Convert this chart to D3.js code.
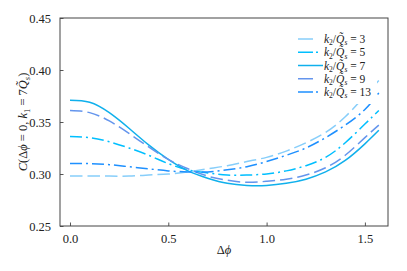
<!DOCTYPE html>
<html>
<head>
<meta charset="utf-8">
<script src="https://cdn.jsdelivr.net/npm/d3@7"></script>
<style>
  body { margin: 0; background: #fff; }
  text { font-family: "Liberation Serif", "DejaVu Serif", serif; }
</style>
</head>
<body>
<div id="chart"></div>
<script>
// values
const dphi = [0, 0.1, 0.2, 0.3, 0.4, 0.5, 0.6, 0.7, 0.8, 0.9, 1.0, 1.1, 1.2, 1.3, 1.4, 1.5, Math.PI / 2];
const k3 = [0.298, 0.298, 0.298, 0.298, 0.299, 0.300, 0.302, 0.305, 0.308, 0.312, 0.316, 0.322, 0.330, 0.340, 0.355, 0.375, 0.390];
const k5 = [0.336, 0.335, 0.331, 0.325, 0.318, 0.310, 0.304, 0.301, 0.299, 0.299, 0.300, 0.303, 0.308, 0.316, 0.330, 0.348, 0.361];
const k7 = [0.371, 0.369, 0.359, 0.344, 0.328, 0.314, 0.303, 0.296, 0.291, 0.289, 0.289, 0.291, 0.295, 0.302, 0.313, 0.329, 0.342];
const k9 = [0.361, 0.359, 0.351, 0.339, 0.326, 0.314, 0.305, 0.298, 0.294, 0.292, 0.293, 0.295, 0.299, 0.306, 0.318, 0.335, 0.347];
const k13 = [0.310, 0.310, 0.309, 0.307, 0.305, 0.303, 0.302, 0.302, 0.304, 0.307, 0.312, 0.318, 0.325, 0.335, 0.347, 0.362, 0.378];
const labels = ['3', '5', '7', '9', '13'];
const xTicks = [0, 0.5, 1.0, 1.5];
const yTicks = [0.25, 0.30, 0.35, 0.40, 0.45];

const series = [
  { k: labels[0], v: k3, color: '#87cefa', dash: '12.5,5', legDash: '15,10' },
  { k: labels[1], v: k5, color: '#00bfff', dash: '12,4,2,4', legDash: '15,3,2,10' },
  { k: labels[2], v: k7, color: '#10b0ec', dash: null, legDash: null },
  { k: labels[3], v: k9, color: '#6495ed', dash: '12.5,5', legDash: '15,10' },
  { k: labels[4], v: k13, color: '#1e90ff', dash: '12,4,2,4', legDash: '15,3,2,10' }
];

const width = 407, height = 271;
const margin = { top: 18, right: 19, bottom: 45, left: 60 };

const svg = d3.select('#chart').append('svg')
  .attr('width', width)
  .attr('height', height);

const x = d3.scaleLinear()
  .domain([-0.0508, 1.6175])
  .range([margin.left, width - margin.right]);
const y = d3.scaleLinear()
  .domain([0.25, 0.45])
  .range([height - margin.bottom, margin.top]);

// curves
const line = d3.line()
  .x(d => x(d[0]))
  .y(d => y(d[1]))
  .curve(d3.curveNatural);

svg.append('g')
  .selectAll('path')
  .data(series)
  .join('path')
  .attr('d', s => line(dphi.map((p, i) => [p, s.v[i]])))
  .attr('fill', 'none')
  .attr('stroke', s => s.color)
  .attr('stroke-width', 1.5)
  .attr('stroke-dasharray', s => s.dash);

// axes (ticks inward)
const xAxis = g => g.attr('transform', `translate(0,${height - margin.bottom})`)
  .call(d3.axisBottom(x).tickValues(xTicks).tickFormat(d3.format('.1f')).tickSizeInner(-3.5).tickSizeOuter(0).tickPadding(8))
  .call(g => g.select('.domain').remove())
  .call(g => g.selectAll('.tick line').attr('stroke', '#555'))
  .call(g => g.selectAll('text').attr('font-size', 12.5).attr('fill', '#222'));

const yAxis = g => g.attr('transform', `translate(${margin.left},0)`)
  .call(d3.axisLeft(y).tickValues(yTicks).tickFormat(d3.format('.2f')).tickSizeInner(-3.5).tickSizeOuter(0).tickPadding(9))
  .call(g => g.select('.domain').remove())
  .call(g => g.selectAll('.tick line').attr('stroke', '#555'))
  .call(g => g.selectAll('text').attr('font-size', 12.5).attr('fill', '#222'));

svg.append('g').call(xAxis);
svg.append('g').call(yAxis);

// frame
svg.append('rect')
  .attr('x', margin.left)
  .attr('y', margin.top)
  .attr('width', width - margin.left - margin.right)
  .attr('height', height - margin.top - margin.bottom)
  .attr('fill', 'none')
  .attr('stroke', '#444')
  .attr('stroke-width', 1);

// x label
svg.append('text')
  .attr('x', (margin.left + width - margin.right) / 2)
  .attr('y', 254)
  .attr('text-anchor', 'middle')
  .attr('font-size', 12.5)
  .attr('fill', '#222')
  .call(t => {
    t.append('tspan').text('Δ');
    t.append('tspan').attr('font-style', 'italic').text('ϕ');
  });

// y label
const yl = svg.append('text')
  .attr('transform', `translate(27,${(margin.top + height - margin.bottom) / 2}) rotate(-90)`)
  .attr('text-anchor', 'middle')
  .attr('font-size', 12.5)
  .attr('fill', '#222');
yl.append('tspan').attr('font-style', 'italic').text('C');
yl.append('tspan').text('(Δ');
yl.append('tspan').attr('font-style', 'italic').text('ϕ');
yl.append('tspan').text(' = 0, ');
yl.append('tspan').attr('font-style', 'italic').text('k');
yl.append('tspan').attr('font-size', 8.5).attr('dy', 2.5).text('1');
yl.append('tspan').attr('dy', -2.5).text(' = 7');
yl.append('tspan').attr('font-style', 'italic').text('Q\u0303');
yl.append('tspan').attr('font-size', 8.5).attr('font-style', 'italic').attr('dy', 2.5).text('s');
yl.append('tspan').attr('dy', -2.5).text(')');

// legend
const leg = svg.append('g');
leg.append('rect')
  .attr('x', 293).attr('y', 29)
  .attr('width', 84).attr('height', 75)
  .attr('fill', '#fff');

const rowY = d3.scaleLinear().domain([0, 4]).range([39, 92]);
series.forEach((s, i) => {
  const yy = rowY(i);
  leg.append('line')
    .attr('x1', 298).attr('x2', 323)
    .attr('y1', yy).attr('y2', yy)
    .attr('stroke', s.color)
    .attr('stroke-width', 1.5)
    .attr('stroke-dasharray', s.legDash);
  const t = leg.append('text')
    .attr('x', 324).attr('y', yy + 4)
    .attr('font-size', 11.5)
    .attr('fill', '#222');
  t.append('tspan').attr('font-style', 'italic').text('k');
  t.append('tspan').attr('font-size', 7.5).attr('dy', 2.4).text('2');
  t.append('tspan').attr('dy', -2.4).text('/');
  t.append('tspan').attr('font-style', 'italic').text('Q\u0303');
  t.append('tspan').attr('font-size', 7.5).attr('font-style', 'italic').attr('dy', 2.4).text('s');
  t.append('tspan').attr('dy', -2.4).text(' = ' + s.k);
});
</script>
</body>
</html>
